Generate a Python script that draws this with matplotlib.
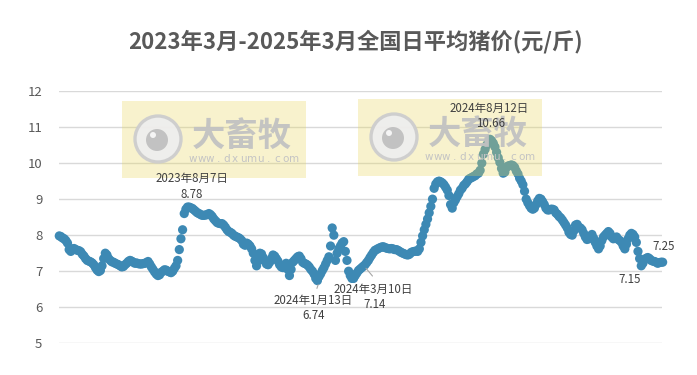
import numpy as np
import pandas as pd
import matplotlib
matplotlib.use("Agg")
import matplotlib.pyplot as plt
from matplotlib.patches import Rectangle, Circle
from matplotlib.transforms import IdentityTransform

plt.rcParams['font.family'] = ['Noto Sans CJK SC', 'DejaVu Sans']

# ---------------- data ----------------
title = "2023年3月-2025年3月全国日平均猪价(元/斤)"
start_date = "2023-03-05"
step = "2D"
prices = [
    7.98, 7.96, 7.92, 7.90, 7.85, 7.78, 7.60, 7.55, 7.62, 7.63,
    7.60, 7.58, 7.57, 7.54, 7.47, 7.42, 7.35, 7.30, 7.28, 7.26,
    7.23, 7.18, 7.10, 7.03, 6.99, 7.02, 7.15, 7.35, 7.50, 7.45,
    7.35, 7.30, 7.26, 7.25, 7.22, 7.20, 7.18, 7.15, 7.12, 7.13,
    7.18, 7.22, 7.27, 7.30, 7.28, 7.25, 7.22, 7.23, 7.21, 7.20,
    7.20, 7.21, 7.22, 7.24, 7.27, 7.20, 7.12, 7.05, 6.98, 6.92,
    6.88, 6.90, 6.97, 7.00, 7.04, 7.03, 7.00, 6.98, 6.96, 7.00,
    7.08, 7.15, 7.30, 7.60, 7.90, 8.15, 8.60, 8.72, 8.78, 8.78,
    8.76, 8.74, 8.70, 8.66, 8.62, 8.60, 8.57, 8.55, 8.55, 8.56,
    8.57, 8.60, 8.57, 8.52, 8.45, 8.40, 8.35, 8.33, 8.32, 8.32,
    8.28, 8.22, 8.15, 8.10, 8.08, 8.05, 8.00, 7.97, 7.95, 7.93,
    7.90, 7.85, 7.75, 7.72, 7.78, 7.75, 7.70, 7.62, 7.50, 7.30,
    7.15, 7.30, 7.50, 7.48, 7.38, 7.28, 7.20, 7.18, 7.25, 7.35,
    7.45, 7.42, 7.35, 7.28, 7.18, 7.12, 7.10, 7.15, 7.22, 7.05,
    6.88, 7.05, 7.25, 7.30, 7.35, 7.40, 7.42, 7.35, 7.25, 7.22,
    7.20, 7.17, 7.12, 7.05, 7.00, 6.92, 6.80, 6.74, 6.85, 6.93,
    7.02, 7.10, 7.20, 7.30, 7.40, 7.70, 8.20, 8.00, 7.30, 7.50,
    7.62, 7.70, 7.78, 7.82, 7.55, 7.30, 7.00, 6.88, 6.80, 6.80,
    6.88, 6.95, 7.02, 7.06, 7.10, 7.14, 7.18, 7.24, 7.30, 7.38,
    7.45, 7.52, 7.58, 7.60, 7.63, 7.65, 7.67, 7.68, 7.66, 7.64,
    7.63, 7.62, 7.63, 7.62, 7.60, 7.60, 7.58, 7.55, 7.52, 7.50,
    7.48, 7.46, 7.45, 7.47, 7.52, 7.54, 7.55, 7.56, 7.55, 7.62,
    7.80, 7.98, 8.15, 8.30, 8.45, 8.62, 8.80, 9.00, 9.30, 9.42,
    9.48, 9.50, 9.48, 9.45, 9.40, 9.33, 9.25, 9.10, 8.85, 8.75,
    8.90, 8.98, 9.07, 9.15, 9.25, 9.30, 9.38, 9.42, 9.48, 9.55,
    9.58, 9.60, 9.63, 9.65, 9.70, 9.72, 9.80, 10.00, 10.25, 10.38,
    10.50, 10.60, 10.66, 10.62, 10.55, 10.45, 10.30, 10.15, 10.02, 9.85,
    9.72, 9.75, 9.88, 9.92, 9.93, 9.95, 9.93, 9.88, 9.78, 9.70,
    9.58, 9.50, 9.40, 9.22, 9.00, 8.90, 8.82, 8.75, 8.72, 8.75,
    8.85, 8.95, 9.02, 9.00, 8.93, 8.85, 8.75, 8.70, 8.70, 8.72,
    8.72, 8.70, 8.62, 8.58, 8.52, 8.48, 8.42, 8.35, 8.28, 8.20,
    8.08, 8.02, 8.00, 8.12, 8.28, 8.30, 8.22, 8.20, 8.15, 8.05,
    7.95, 7.88, 7.90, 7.95, 8.02, 7.92, 7.80, 7.70, 7.62, 7.70,
    7.85, 7.95, 8.00, 8.05, 8.10, 8.05, 7.95, 7.90, 7.92, 7.95,
    7.88, 7.85, 7.80, 7.70, 7.62, 7.75, 7.90, 8.00, 8.05, 8.02,
    7.95, 7.80, 7.55, 7.35, 7.15, 7.22, 7.32, 7.36, 7.38, 7.35,
    7.30, 7.28, 7.27, 7.25, 7.22, 7.24, 7.25, 7.25,
]
yticks = [5, 6, 7, 8, 9, 10, 11, 12]

ann_dates = ["2023-08-07", "2024-01-13", "2024-03-10", "2024-08-12"]
ann_values = [8.78, 6.74, 7.14, 10.66]
end_low_value = 7.15
end_value = 7.25

# --------------- figure ---------------
W, H = 697, 375
fig = plt.figure(figsize=(W / 100, H / 100), dpi=100)
fig.patch.set_facecolor("white")

ax_left, ax_right, ax_top, ax_bot = 59, 662, 91, 343.3
ax = fig.add_axes([ax_left / W, 1 - ax_bot / H, (ax_right - ax_left) / W, (ax_bot - ax_top) / H])

origin = pd.Timestamp("2023-03-01")
dates = pd.date_range(start_date, periods=len(prices), freq=step)
days = np.array((dates - origin).days, dtype=float)

px_per_day = 0.822
x0_px = 56.0
ax.set_xlim((ax_left - x0_px) / px_per_day, (ax_right - x0_px) / px_per_day)
ax.set_ylim(5, 12)

ax.scatter(days, prices, s=44, color="#3d89b4", edgecolors="none", zorder=3, clip_on=False)

ax.set_yticks(yticks)
ax.set_yticklabels([str(t) for t in yticks], fontsize=9.5, color="#595959")
ax.tick_params(axis="y", length=0, pad=12)
ax.set_xticks([])
ax.grid(axis="y", color="#d9d9d9", linewidth=1.0)
ax.set_axisbelow(True)
for s in ax.spines.values():
    s.set_visible(False)

def dday(d):
    return float((pd.Timestamp(d) - origin).days)

txt_kw = dict(fontsize=8.3, color="#404040", ha="center", va="center",
              textcoords="offset pixels", annotation_clip=False, zorder=8)
line_kw = dict(arrowstyle="-", color="#a6a6a6", lw=0.8)

# Aug 7 2023
x, v = dday(ann_dates[0]), ann_values[0]
ax.annotate("2023年8月7日", (x, v), xytext=(5, 29), **txt_kw)
ax.annotate(f"{v:.2f}", (x, v), xytext=(5, 13), **txt_kw)
# Jan 13 2024
x, v = dday(ann_dates[1]), ann_values[1]
ax.annotate("", (x + 2, v - 0.04), xytext=(-3, -9), textcoords="offset pixels",
            arrowprops=line_kw, annotation_clip=False)
ax.annotate("2024年1月13日", (x, v), xytext=(-4, -20), **txt_kw)
ax.annotate(f"{v:.2f}", (x, v), xytext=(-4, -34.5), **txt_kw)
# Mar 10 2024
x, v = dday(ann_dates[2]), ann_values[2]
ax.annotate("", (x, v), xytext=(10, -12), textcoords="offset pixels",
            arrowprops=line_kw, annotation_clip=False)
ax.annotate("2024年3月10日", (x, v), xytext=(9, -23), **txt_kw)
ax.annotate(f"{v:.2f}", (x, v), xytext=(10, -38), **txt_kw)
# Aug 12 2024
x, v = dday(ann_dates[3]), ann_values[3]
ax.annotate("2024年8月12日", (x, v), xytext=(-2, 31), **txt_kw)
ax.annotate(f"{v:.2f}", (x, v), xytext=(-1, 16), **txt_kw)
# end labels
ax.annotate(f"{end_value:.2f}", (days[-1], prices[-1]), xytext=(1, 16), **txt_kw)
tail = np.array(prices[-20:])
low_idx = len(prices) - 20 + int(np.argmin(tail))
ax.annotate(f"{end_low_value:.2f}", (days[low_idx], prices[low_idx]), xytext=(-12, -14), **txt_kw)

# title
fig.text(355 / W, 1 - 42 / H, title, fontsize=16, fontweight="bold", color="#595959",
         ha="center", va="center")

# watermarks (pixel space, above the data, below the labels)
idt = IdentityTransform()
wm_url = "www.dxumu.com"

def watermark(x_left, y_top):
    w, h = 184, 77
    ax.add_patch(Rectangle((x_left, H - y_top - h), w, h, transform=idt, clip_on=False,
                           facecolor="#e8d65a", alpha=0.30, edgecolor="none", zorder=4))
    cx, cy = x_left + 36, H - (y_top + 38)
    ax.add_patch(Circle((cx, cy), 23, transform=idt, clip_on=False, facecolor="#eeeeee",
                        edgecolor="#cdcdcd", lw=2.4, alpha=0.95, zorder=5))
    ax.add_patch(Circle((cx - 1, cy - 1), 11, transform=idt, clip_on=False, facecolor="#c0c0c0",
                        edgecolor="none", alpha=0.95, zorder=6))
    ax.add_patch(Circle((cx - 5, cy + 4), 3.0, transform=idt, clip_on=False, facecolor="#f5f5f5",
                        edgecolor="none", zorder=7))
    ax.text(x_left + 120, H - (y_top + 35), "大畜牧", transform=idt, fontsize=24,
            fontweight="bold", color="#c2c2c2", alpha=0.95, ha="center", va="center",
            zorder=6, clip_on=False)
    n = len(wm_url)
    for k, ch in enumerate(wm_url):
        xx = x_left + 71 + k * (101 / (n - 1))
        ax.text(xx, H - (y_top + 58), ch, transform=idt, fontsize=7.5, color="#c4c4c4",
                ha="center", va="center", zorder=6, family="DejaVu Sans", clip_on=False)

watermark(122, 101)
watermark(358, 99)

fig.savefig("out.png", dpi=100)
